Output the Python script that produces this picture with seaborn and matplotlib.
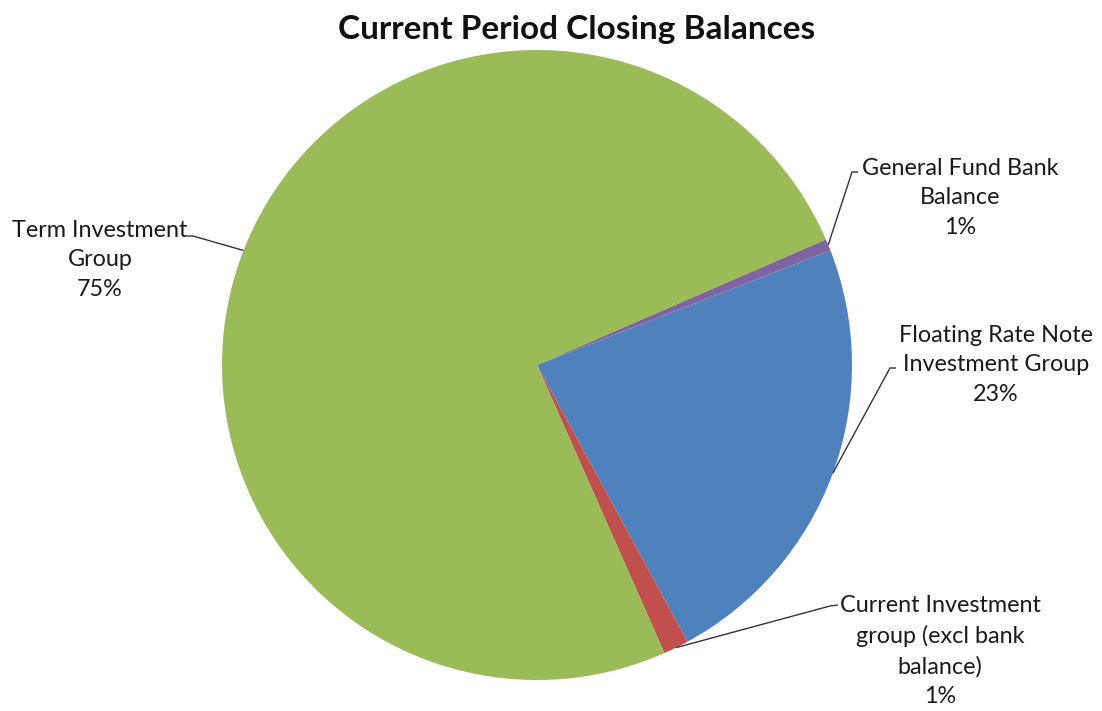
import numpy as np
import matplotlib
matplotlib.use("Agg")
import matplotlib.pyplot as plt
import seaborn as sns

# Closing balances by group (share of total, %), drawn clockwise
categories = [
    "General Fund Bank\nBalance",
    "Floating Rate Note\nInvestment Group",
    "Current Investment\ngroup (excl bank\nbalance)",
    "Term Investment\nGroup",
]
shares = [0.6, 23.0, 1.3, 75.1]
colors = ["#8064A2", "#4F81BD", "#C0504D", "#9BBB59"]
title = "Current Period Closing Balances"

sns.set_theme(style="white")
plt.rcParams["font.family"] = ["Lato", "DejaVu Sans"]

W, H = 1102, 711
fig = plt.figure(figsize=(W / 100, H / 100), dpi=100)
ax = fig.add_axes([0, 0, 1, 1])
ax.set_axis_off()

# pie centre and radius in pixels
cx, cy, R = 537, 365, 315


def px(x, y):
    return (x - cx) / R, (cy - y) / R


wedges, _ = ax.pie(
    shares,
    colors=colors,
    startangle=23.5,
    counterclock=False,
    radius=1.0,
    wedgeprops=dict(linewidth=0),
)
ax.set_xlim(-cx / R, (W - cx) / R)
ax.set_ylim(-(H - cy) / R, cy / R)
ax.set_aspect("auto")

# label layout: text centre (px), elbow (px), elbow end (px)
layout = [
    ((960, 198), (852, 172), (858, 172)),
    ((996, 365), (890, 368), (896, 368)),
    ((940, 651), (830, 606), (838, 605)),
    ((100, 260), (193, 236), (187, 236)),
]

for w, cat, val, (tc, elb, end) in zip(wedges, categories, shares, layout):
    mid = np.deg2rad((w.theta1 + w.theta2) / 2)
    p0 = (np.cos(mid), np.sin(mid))
    e1 = px(*elb)
    e2 = px(*end)
    ax.plot([p0[0], e1[0], e2[0]], [p0[1], e1[1], e2[1]],
            color="#333333", lw=1.0, solid_capstyle="butt")
    tx, ty = px(*tc)
    ax.text(tx, ty, f"{cat}\n{val:.0f}%", ha="center", va="center",
            fontsize=16.8, color="#1a1a1a", linespacing=1.52)

fig.text(577 / W, 1 - 30 / H, title, ha="center", va="center",
         fontsize=24, fontweight="bold", color="#111111")

fig.savefig("out.png", dpi=100, facecolor="white")
